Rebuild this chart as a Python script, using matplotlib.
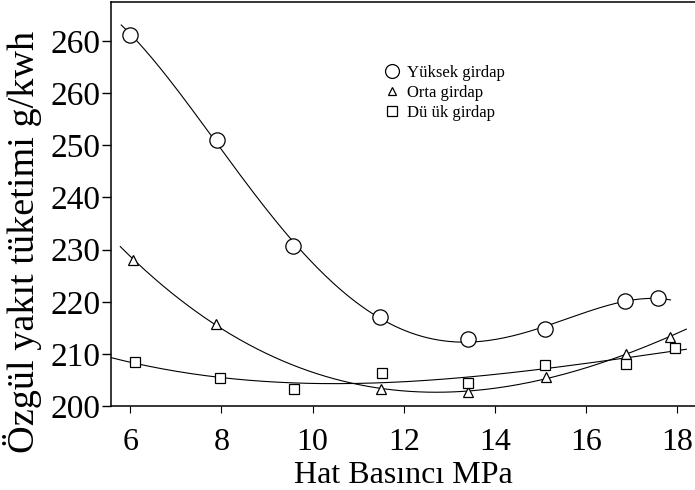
import numpy as np
from matplotlib import pyplot as plt, rcParams
from matplotlib.lines import Line2D

rcParams['font.family'] = ['Liberation Serif', 'DejaVu Serif']

# hat basinci (MPa) ve ozgul yakit tuketimi (g/kWh)
p_yuksek = [6.0, 7.9, 9.56, 11.47, 13.41, 15.09, 16.86, 17.58]
be_yuksek = [271.2, 251.1, 230.7, 217.1, 212.8, 214.8, 220.1, 220.7]

p_orta = [6.06, 7.88, 11.49, 13.41, 15.12, 16.88, 17.84]
be_orta = [228.1, 215.7, 203.3, 202.6, 205.6, 209.9, 213.3]

p_dusuk = [6.1, 7.97, 9.6, 11.52, 13.41, 15.1, 16.87, 17.95]
be_dusuk = [208.4, 205.4, 203.3, 206.3, 204.5, 207.9, 208.1, 211.2]

x_ticks = [6, 8, 10, 12, 14, 16, 18]
y_ticks = [200, 210, 220, 230, 240, 250, 260, 270]
y_ticklabels = ['200', '210', '220', '230', '240', '250', '260', '260']

labels = ['Yüksek girdap', 'Orta girdap', 'Dü ük girdap']


def trend(ax, x, y, x0, x1, deg=3):
    c = np.polyfit(x, y, deg)
    xs = np.linspace(x0, x1, 200)
    ax.plot(xs, np.polyval(c, xs), color='k', lw=0.8)


def ozgul_tuketim():
    fig = plt.figure(figsize=(6.95, 4.9), dpi=100)
    ax = fig.add_axes([0.16, 0.1714, 0.84, 0.8245])

    trend(ax, p_yuksek, be_yuksek, 5.8, 17.85, deg=4)
    trend(ax, p_orta, be_orta, 5.78, 18.2)
    trend(ax, p_dusuk, be_dusuk, 5.55, 18.2)

    ax.plot(p_yuksek, be_yuksek, 'o', ms=11, mfc='w', mec='k', mew=0.9)
    ax.plot(p_orta, be_orta, '^', ms=6.5, mfc='w', mec='k', mew=0.9)
    ax.plot(p_dusuk, be_dusuk, 's', ms=7.5, mfc='w', mec='k', mew=0.9)

    ax.set_xlim(5.58, 18.39)
    ax.set_ylim(200, 277.5)
    ax.set_xticks(x_ticks)
    ax.set_yticks(y_ticks)
    ax.set_yticklabels(y_ticklabels)
    ax.spines['right'].set_visible(False)
    for s in ['left', 'bottom', 'top']:
        ax.spines[s].set_linewidth(1.1)
    ax.tick_params(axis='y', direction='out', length=6.5, width=1, pad=1,
                   labelsize=24)
    ax.tick_params(axis='x', direction='out', length=5, width=0.8, pad=11,
                   labelsize=23)
    ax.set_xlabel('Hat Basıncı MPa', fontsize=23, labelpad=3)
    ax.set_ylabel('Özgül yakıt tüketimi g/kwh', fontsize=27.5)
    ax.yaxis.set_label_coords(-0.118, 0.406)

    handles = [
        Line2D([], [], ls='', marker='o', ms=10, mfc='w', mec='k', mew=0.9),
        Line2D([], [], ls='', marker='^', ms=5.5, mfc='w', mec='k', mew=0.9),
        Line2D([], [], ls='', marker='s', ms=7, mfc='w', mec='k', mew=0.9),
    ]
    ax.legend(handles, labels, loc='upper left', bbox_to_anchor=(0.453, 0.865),
              frameon=False, fontsize=12, handlelength=1.0, handletextpad=0.4,
              labelspacing=0.25, borderpad=0)

    plt.savefig('out.png', dpi=100)


if __name__ == '__main__':
    ozgul_tuketim()
